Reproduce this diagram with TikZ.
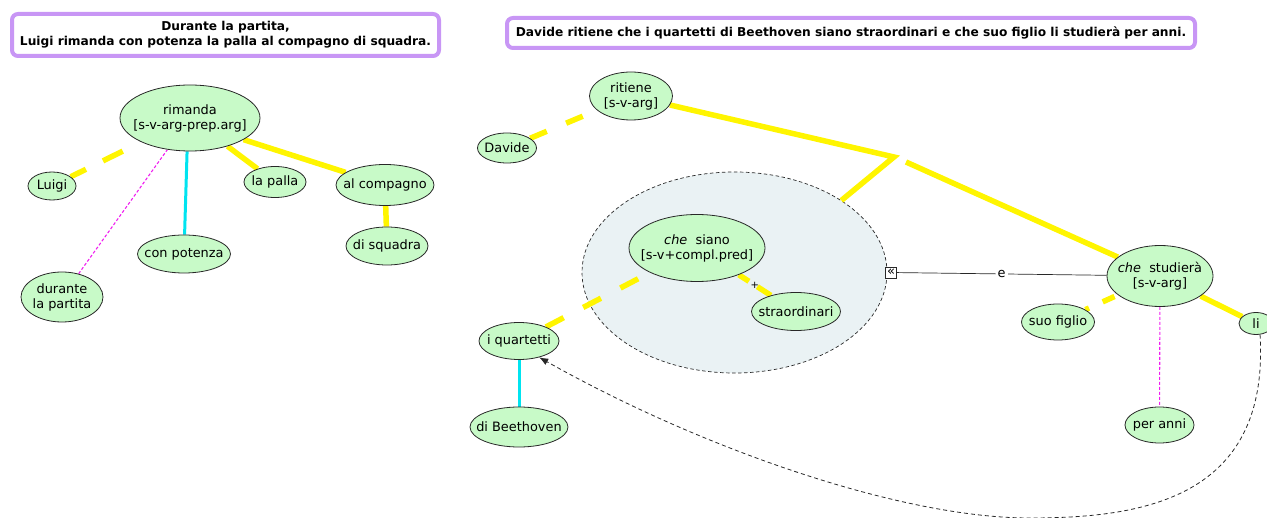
\documentclass[tikz,border=0pt]{standalone}
\usepackage{fontspec}
\setmainfont{DejaVu Sans}
\usetikzlibrary{shapes.geometric,arrows.meta}
\definecolor{nodefill}{RGB}{200,250,200}
\definecolor{ylw}{RGB}{255,245,0}
\definecolor{cyn}{RGB}{0,228,240}
\definecolor{mag}{RGB}{240,30,240}
\definecolor{grpfill}{RGB}{234,242,244}
\definecolor{purp}{RGB}{200,150,245}
\definecolor{edgecol}{RGB}{40,40,40}
\pgfdeclarelayer{grplayer}
\pgfdeclarelayer{edgelayer}
\pgfsetlayers{grplayer,edgelayer,main}
\begin{document}
\begin{tikzpicture}[x=1pt,y=-1pt,
  concept/.style={ellipse, draw=edgecol, line width=0.8pt, fill=nodefill, inner sep=-40pt, align=center, font=\fontsize{12.9}{15}\selectfont},
  titlebox/.style={draw=purp, line width=4pt, rounded corners=6pt, fill=white, align=center, inner sep=0pt, font=\bfseries\fontsize{12.2}{15}\selectfont},
  ysolid/.style={draw=ylw, line width=5.5pt},
  ydash/.style={draw=ylw, line width=5.5pt, dash pattern=on 18pt off 21pt},
  cyline/.style={draw=cyn, line width=3pt},
  magline/.style={draw=mag, line width=1.1pt, dash pattern=on 3pt off 2pt},
  grpstyle/.style={ellipse, draw=edgecol, line width=0.7pt, dash pattern=on 3.5pt off 2.5pt, fill=grpfill, inner sep=0pt},
  curvearrow/.style={draw=edgecol, line width=0.8pt, dash pattern=on 4pt off 3pt, -{Latex[length=9pt,width=7pt]}},
]
\useasboundingbox (0,0) rectangle (1267,518);

% titles
\node[titlebox, minimum width=427pt, minimum height=42pt] (t1) at (225.5,35) {Durante la partita,\\Luigi rimanda con potenza la palla al compagno di squadra.};
\node[titlebox, minimum width=688pt, minimum height=30pt] (t2) at (851,33) {Davide ritiene che i quartetti di Beethoven siano straordinari e che suo figlio li studierà per anni.};

% left map
\node[concept, minimum width=140pt, minimum height=66pt] (rimanda) at (190,118) {rimanda\\{}[s-v-arg-prep.arg]};
\node[concept, minimum width=48pt, minimum height=28pt] (luigi) at (52,186) {Luigi};
\node[concept, minimum width=62pt, minimum height=31pt] (palla) at (275,182) {la palla};
\node[concept, minimum width=98pt, minimum height=41pt] (compagno) at (385,185) {al compagno};
\node[concept, minimum width=93pt, minimum height=38pt] (potenza) at (184,254) {con potenza};
\node[concept, minimum width=82pt, minimum height=38pt] (squadra) at (387,246) {di squadra};
\node[concept, minimum width=82pt, minimum height=50pt] (durante) at (62,297) {durante\\la partita};

% right map
\begin{pgfonlayer}{grplayer}
\node[grpstyle, minimum width=305pt, minimum height=201pt] (grp) at (734.5,272.5) {};
\end{pgfonlayer}
\node[concept, minimum width=83pt, minimum height=48pt] (ritiene) at (631,96) {ritiene\\{}[s-v-arg]};
\node[concept, minimum width=59pt, minimum height=30pt] (davide) at (507,148) {Davide};
\node[concept, minimum width=136pt, minimum height=67pt] (siano) at (697,248) {\textit{che}~~siano\\{}[s-v+compl.pred]};
\node[concept, minimum width=89pt, minimum height=38pt] (straord) at (796,311.5) {straordinari};
\node[concept, minimum width=80pt, minimum height=37pt] (quartetti) at (519,341) {i quartetti};
\node[concept, minimum width=98pt, minimum height=40pt] (beeth) at (519,427) {di Beethoven};
\node[concept, minimum width=106pt, minimum height=61pt] (studiera) at (1160,276) {\textit{che}~~studierà\\{}[s-v-arg]};
\node[concept, minimum width=73pt, minimum height=36pt] (figlio) at (1058,322) {suo figlio};
\node[concept, minimum width=34pt, minimum height=22pt] (li) at (1256,323.5) {li};
\node[concept, minimum width=69pt, minimum height=36pt] (peranni) at (1159.5,425) {per anni};
\node[draw=edgecol, fill=white, line width=0.6pt, inner sep=0pt, minimum width=11pt, minimum height=11pt, font=\fontsize{13}{13}\selectfont] (mk) at (891,272.5) {«};

\coordinate (J1) at (894,157);
\coordinate (J2) at (906,162);
\coordinate (cb) at (1030,518);

\begin{pgfonlayer}{edgelayer}
% left edges
\draw[ydash, dash pattern=on 17pt off 19pt on 22pt off 40pt] (luigi) -- (rimanda);
\draw[magline] (durante) -- (rimanda);
\draw[cyline] (rimanda.-95) -- (potenza);
\draw[ysolid] (rimanda) -- (palla);
\draw[ysolid] (rimanda.-22) -- (compagno);
\draw[ysolid] (compagno) -- (squadra);
% right edges
\draw[ydash] (davide) -- (ritiene);
\draw[ysolid] (ritiene.-13) -- (J1) -- (grp.34);
\draw[ysolid] (J2) -- (studiera);
\draw[ydash, dash pattern=on 20pt off 22pt] (quartetti) -- (siano);
\draw[ydash, dash pattern=on 12pt off 10pt on 20pt off 10pt] (siano) -- (straord);
\draw[cyline] (quartetti) -- (beeth);
\draw[ydash, dash pattern=on 4pt off 15pt on 13pt off 30pt] (figlio) -- (studiera);
\draw[ysolid] (studiera) -- (li);
\draw[magline] (studiera) -- (peranni);
\draw[draw=edgecol, line width=0.7pt] (mk) -- node[fill=white, inner sep=2pt, font=\fontsize{12.9}{14}\selectfont] {e} (studiera);
\draw[curvearrow] (li.-70) .. controls (1270,500) and (1140,518) .. (cb) .. controls (900,518) and (700,448) .. (quartetti.-39);
\end{pgfonlayer}
\path (siano) -- node[font=\fontsize{10}{10}\selectfont] {+} (straord);
\end{tikzpicture}
\end{document}
